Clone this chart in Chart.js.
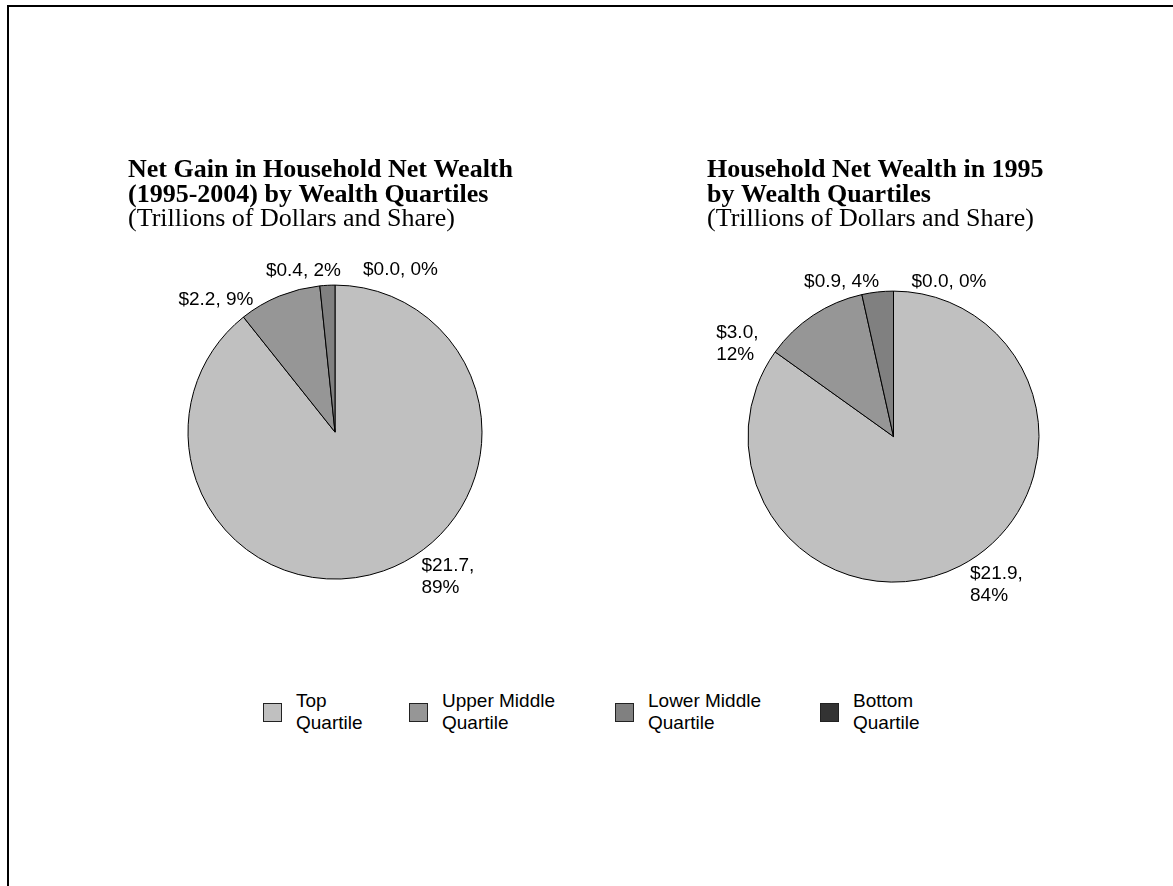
<!DOCTYPE html>
<html>
<head>
<meta charset="utf-8">
<script src="https://cdn.jsdelivr.net/npm/chart.js@4"></script>
<style>
  body { margin: 0; background: #fff; }
  .frame {
    position: absolute; left: 7px; top: 5px; width: 1200px; height: 900px;
    border-top: 2px solid #000; border-left: 2px solid #000;
  }
  .pie { position: absolute; top: 158px; height: 500px; }
  #left { left: 128px; width: 430px; }
  #right { left: 707px; width: 400px; }
  #legend {
    position: absolute; left: 263px; top: 690px;
    display: grid; grid-template-columns: 146px 206px 205px auto;
    font-family: "Liberation Sans", Arial, sans-serif; font-size: 19px; color: #000;
  }
  .item { display: flex; align-items: center; }
  .swatch { width: 17px; height: 17px; border: 1px solid #222; margin-right: 14px; flex: none; }
  .item span { line-height: 22px; }
</style>
</head>
<body>
<div class="frame"></div>
<div class="pie" id="left"><canvas id="gainChart"></canvas></div>
<div class="pie" id="right"><canvas id="wealthChart"></canvas></div>
<div id="legend"></div>

<script>
// data
const quartiles = ['Top Quartile', 'Upper Middle Quartile', 'Lower Middle Quartile', 'Bottom Quartile'];
const gainValues = [21.7, 2.2, 0.4, 0.0];      // trillions, 1995-2004 gain
const gainShares = [89, 9, 2, 0];
const wealthValues = [21.9, 3.0, 0.9, 0.0];    // trillions, 1995
const wealthShares = [84, 12, 4, 0];

const gainTitle = ['Net Gain in Household Net Wealth', '(1995-2004) by Wealth Quartiles'];
const wealthTitle = ['Household Net Wealth in 1995', 'by Wealth Quartiles'];
const subTitle = '(Trillions of Dollars and Share)';

const sliceColors = ['#c0c0c0', '#969696', '#808080', '#333333'];

// draws "$x.x, n%" next to each slice
const sliceLabels = {
  id: 'sliceLabels',
  afterDatasetsDraw(chart, args, opts) {
    const ctx = chart.ctx;
    const meta = chart.getDatasetMeta(0);
    const values = chart.data.datasets[0].data;
    ctx.save();
    ctx.font = '19px "Liberation Sans", Arial, sans-serif';
    ctx.fillStyle = '#000';
    ctx.textBaseline = 'middle';
    meta.data.forEach(function (arc, i) {
      const p = arc.getProps(['x', 'y', 'startAngle', 'endAngle', 'outerRadius'], true);
      const mid = (p.startAngle + p.endAngle) / 2;
      const x = p.x + Math.cos(mid) * p.outerRadius + opts.nudge[i][0];
      const y = p.y + Math.sin(mid) * p.outerRadius + opts.nudge[i][1];
      const first = '$' + values[i].toFixed(1) + ',';
      const second = opts.shares[i] + '%';
      ctx.textAlign = opts.align[i];
      if (opts.wrap[i]) {
        ctx.fillText(first, x, y);
        ctx.fillText(second, x, y + 22);
      } else {
        ctx.fillText(first + ' ' + second, x, y);
      }
    });
    ctx.restore();
  }
};

function makePie(id, values, shares, title, padRight, padBottom, radius, labelOpts) {
  const ctx = document.getElementById(id).getContext('2d');
  return new Chart(ctx, {
    type: 'pie',
    data: {
      labels: quartiles,
      datasets: [{
        data: values,
        backgroundColor: sliceColors,
        borderColor: '#000',
        borderWidth: 1,
        hoverOffset: 0,
      }],
    },
    plugins: [sliceLabels],
    options: {
      responsive: true,
      maintainAspectRatio: false,
      animation: false,
      events: [],
      radius: radius,
      layout: { padding: { left: 0, top: 0, right: padRight, bottom: padBottom } },
      plugins: {
        legend: { display: false },
        tooltip: { enabled: false },
        title: {
          display: true,
          text: title,
          align: 'start',
          color: '#000',
          padding: 0,
          font: { family: '"Liberation Serif", "Times New Roman", serif', size: 26, weight: 'bold', lineHeight: 0.945 },
        },
        subtitle: {
          display: true,
          text: subTitle,
          align: 'start',
          color: '#000',
          padding: 0,
          font: { family: '"Liberation Serif", "Times New Roman", serif', size: 26, weight: 'normal', lineHeight: 0.945 },
        },
        sliceLabels: Object.assign({ shares: shares }, labelOpts),
      },
    },
  });
}

const gainChart = makePie('gainChart', gainValues, gainShares, gainTitle, 16, 25.5, 147, {
  nudge: [[38, -5], [-26, 4], [-24, -15], [28, -15]],
  align: ['left', 'right', 'center', 'left'],
  wrap: [true, false, false, false],
});

const wealthChart = makePie('wealthChart', wealthValues, wealthShares, wealthTitle, 27, 16.5, 145.5, {
  nudge: [[10, 8], [-97, 18], [-36, -10], [18, -9]],
  align: ['left', 'left', 'center', 'left'],
  wrap: [true, true, false, false],
});

// shared legend below both pies
const legendBox = document.getElementById('legend');
gainChart.options.plugins.legend.labels.generateLabels(gainChart).forEach(function (item) {
  const div = document.createElement('div');
  div.className = 'item';
  const sw = document.createElement('div');
  sw.className = 'swatch';
  sw.style.background = item.fillStyle;
  const txt = document.createElement('span');
  txt.innerHTML = item.text.replace(/ (\S+)$/, '<br>$1');
  div.appendChild(sw);
  div.appendChild(txt);
  legendBox.appendChild(div);
});
</script>
</body>
</html>
